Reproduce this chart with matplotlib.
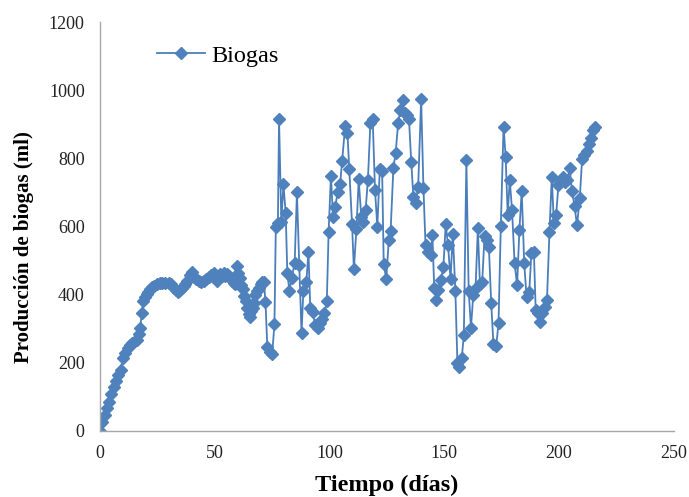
import matplotlib
matplotlib.use("Agg")
import matplotlib.pyplot as plt

dias = [0, 1, 2, 3, 4, 5, 6, 7, 8, 9, 10, 11, 12, 13, 14, 15, 16, 17, 17.5, 18.2,
        18.9, 19.7, 20.5, 21.1, 22, 22.6, 23.5, 24.8, 26, 27, 28.5, 29.9, 31, 32, 33, 33.9,
        35, 35.7, 36.5, 37.2, 38, 39, 40, 41, 42, 43, 44, 45.2, 46.2, 47.3, 48.4, 49.5,
        50.3, 51, 52.4, 53.2, 53.9, 54.6, 55.3, 56, 56.8, 57.5, 58.3, 59, 59.7, 60.3, 60.9,
        61.5, 62.3, 62.9, 63.4, 64.1, 64.8, 65.3, 66, 66.5, 67, 67.7, 68.5, 69.2, 70, 70.7,
        71.4, 72.1, 72.9, 74, 75, 76, 76.6, 77.5, 78, 79, 79.9, 80.9, 81.6, 82.5, 83.5,
        84.8, 85.8, 86.8, 87.8, 88.6, 89.9, 90.8, 91.6, 92.6, 93.8, 94.8, 95.8, 96.8, 97.8,
        98.8, 99.6, 100.6, 101.5, 102.5, 103.5, 104.6, 105.5, 106.8, 107.8, 108.6, 109.8,
        110.6, 111.7, 112.7, 113.8, 114.7, 115.7, 116.7, 117.8, 118.8, 119.8, 120.8, 121.9,
        122.9, 123.6, 124.7, 125.8, 126.6, 127.8, 128.8, 129.9, 130.9, 131.8, 132.7, 133.6,
        134.6, 135.6, 136.5, 137.5, 138.6, 139.9, 140.9, 141.8, 142.8, 144.2, 144.8, 145.6,
        146.5, 147.3, 148.5, 149.6, 150.6, 151.6, 152.7, 153.7, 154.8, 155.7, 156.6, 157.6,
        158.5, 159.6, 160.6, 161.6, 162.6, 163.6, 164.6, 165.5, 166.5, 167.5, 168.4, 169.4,
        170.4, 171.4, 172.6, 173.6, 174.6, 175.8, 176.7, 177.6, 178.5, 179.5, 180.6, 181.7,
        182.7, 183.7, 184.8, 185.8, 187, 187.9, 189, 189.8, 190.8, 191.8, 192.6, 193.7,
        194.7, 195.8, 196.8, 197.7, 198.7, 199.7, 200.8, 201.8, 202.7, 203.6, 204.6, 205.6,
        206.7, 207.8, 209, 210, 211, 212, 212.9, 213.8, 214.6, 215.8]

biogas = [0, 25, 47, 67, 86, 108, 128, 148, 164, 180, 215, 228, 243, 252, 258, 262, 267, 285, 301, 345,
          382, 394, 402, 409, 416, 423, 426, 430, 433, 433, 433, 435, 430, 423, 414, 408,
          414, 419, 425, 431, 440, 458, 467, 452, 445, 440, 438, 440, 446, 453, 458, 463,
          452, 440, 460, 455, 465, 455, 462, 455, 450, 444, 435, 430, 484, 465, 448,
          428, 416, 395, 380, 360, 343, 335, 352, 362, 375, 399, 410, 419, 430, 438,
          438, 378, 247, 233, 226, 313, 600, 609, 915, 614, 724, 639, 465, 412, 448,
          494, 700, 487, 287, 412, 438, 526, 360, 348, 311, 301, 316, 330, 345,
          380, 585, 749, 629, 658, 700, 724, 793, 895, 873, 768, 607,
          474, 592, 738, 629, 614, 648, 736, 905, 915, 707, 600, 768,
          764, 490, 446, 560, 587, 771, 817, 905, 942, 971, 934, 927,
          915, 788, 688, 668, 717, 974, 712, 546, 526, 516, 575, 419,
          384, 414, 443, 482, 606, 546, 446, 578, 412, 199, 189, 215,
          282, 795, 412, 303, 399, 419, 595, 431, 438, 572, 560, 541,
          377, 254, 250, 316, 602, 893, 805, 634, 736, 648, 492, 428,
          590, 705, 492, 394, 409, 521, 526, 355, 345, 321, 345, 365,
          384, 585, 746, 609, 634, 722, 736, 744, 731, 736, 771, 705,
          660, 604, 683, 797, 810, 822, 842, 859, 883, 893]

x_ticks = [0, 50, 100, 150, 200, 250]
y_ticks = [0, 200, 400, 600, 800, 1000, 1200]

plt.rcParams['font.family'] = ['Liberation Serif', 'DejaVu Serif']

fig = plt.figure(figsize=(6.89, 4.97), dpi=100)
ax = fig.add_axes([0.1451, 0.1328, 0.8330, 0.8229])

color = '#4A7EBB'
ax.plot(dias, biogas, color=color, lw=1.3, marker='D', markersize=6,
        markerfacecolor='#4F81BD', markeredgecolor='#4F81BD', label='Biogas')

ax.set_xlim(0, 250)
ax.set_ylim(0, 1200)
ax.set_xticks(x_ticks)
ax.set_yticks(y_ticks)
ax.tick_params(axis='y', length=0, labelsize=13, pad=11, colors='#222222')
ax.tick_params(axis='x', length=0, labelsize=13, pad=10, colors='#222222')

for s in ['top', 'right']:
    ax.spines[s].set_visible(False)
for s in ['left', 'bottom']:
    ax.spines[s].set_color('#A6A6A6')
    ax.spines[s].set_linewidth(1.0)

ax.set_xlabel('Tiempo (días)', fontsize=17.5, fontweight='bold')
ax.xaxis.set_label_coords(0.5, -0.108)
ax.set_ylabel('Producción de biogas (ml)', fontsize=15, fontweight='bold')
ax.yaxis.set_label_coords(-0.115, 0.45)

leg = ax.legend(loc='center left', bbox_to_anchor=(0.099, 0.918), frameon=False,
                fontsize=17.5, handlelength=2.0, handletextpad=0.25, borderpad=0, borderaxespad=0)

fig.savefig('out.png', dpi=100)
